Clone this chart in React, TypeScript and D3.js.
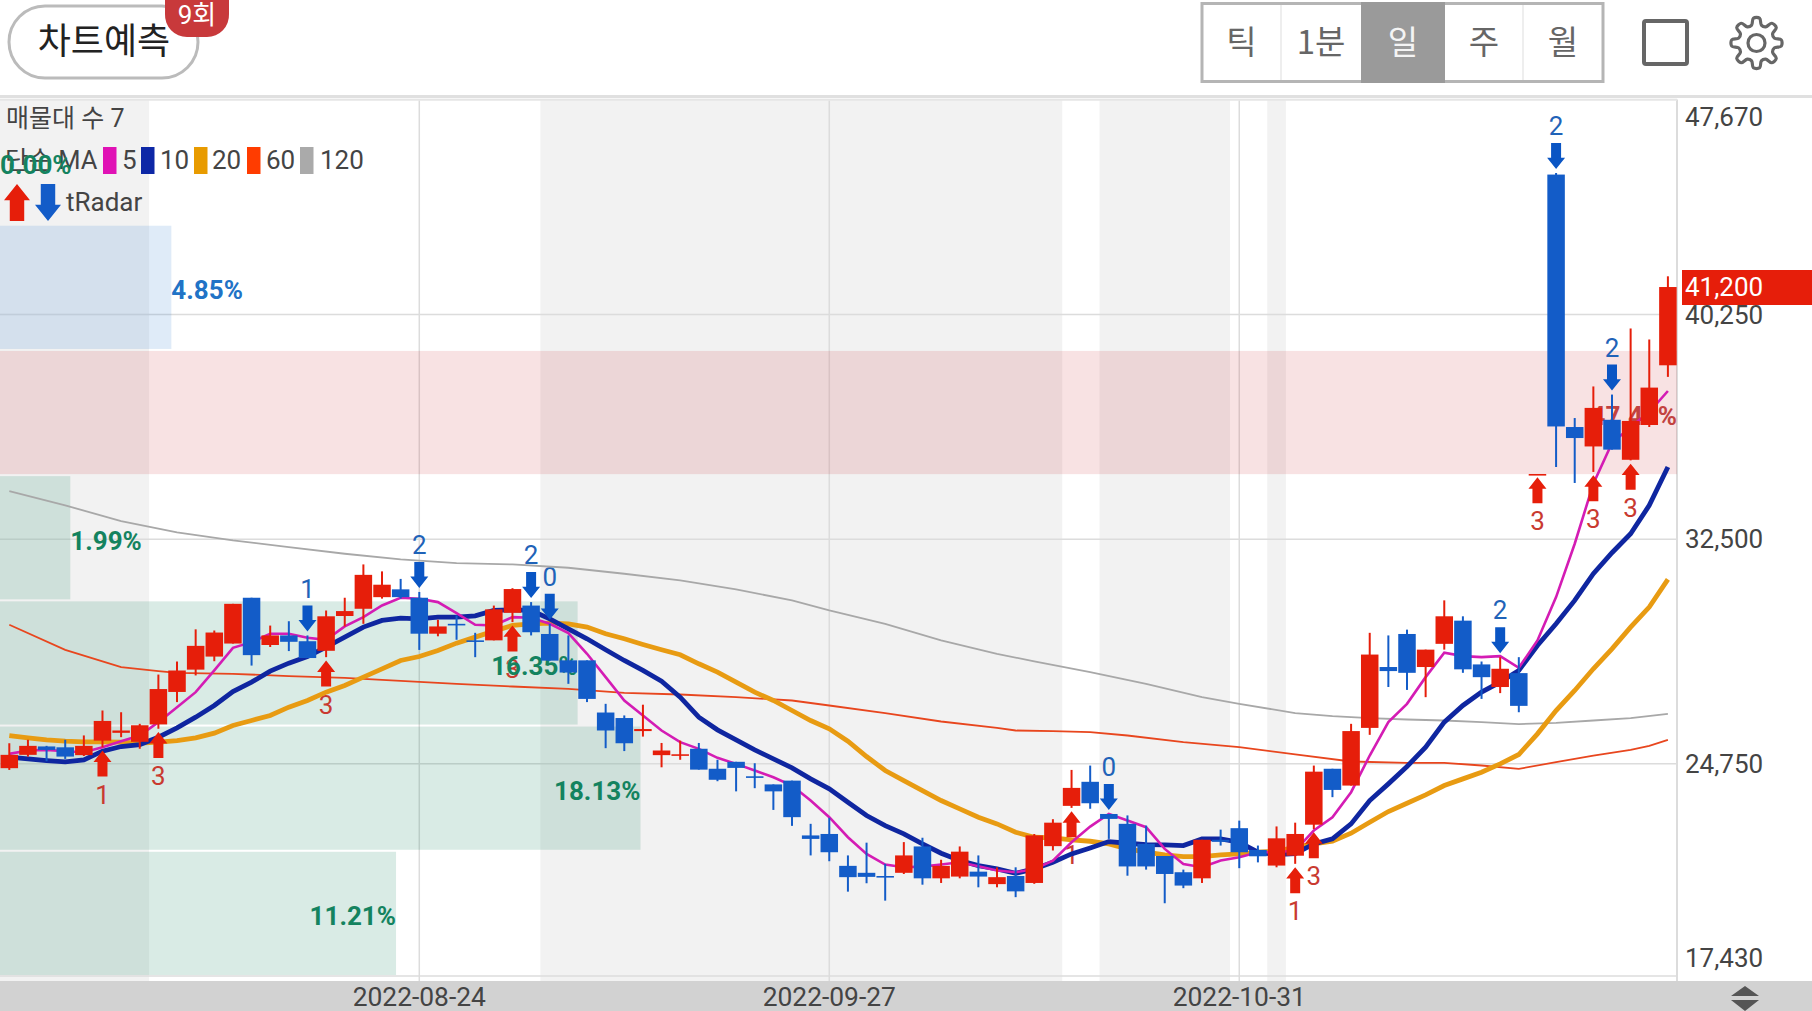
import React from 'react';
import * as d3 from 'd3';

const WIDTH = 1812;
const HEIGHT = 1011;
const PLOT_TOP = 99.5;
const PLOT_BOTTOM = 976;
const PLOT_RIGHT = 1677;

const FONT = 'Roboto, "Noto Sans CJK KR", sans-serif';
const RED = '#e61e0a';
const BLUE = '#135cc8';

const opens = [24600,25060,25350,25320,25050,25550,25820,25510,26110,27230,28000,28450,28900,30480,28850,29180,28980,28650,29850,30100,30500,30770,30480,29240,29580,29010,29010,29960,30210,29230,28320,28320,26520,26330,25880,25050,25040,25270,24580,24820,24320,24040,24170,22280,22330,21230,20990,20880,20990,21900,20800,20860,21030,20600,20880,20640,21910,23300,24130,23020,22680,21990,21570,21010,20800,22130,22530,21780,21240,21580,22650,24580,24000,25990,28090,29230,28090,28890,29690,28180,27400,27880,34750,45080,36370,35700,36620,35240,36440,38500];
const highs = [25460,25580,25370,25580,25730,26590,26530,26130,27830,28280,29390,29350,30270,30480,29520,29670,29180,30040,30480,31630,31390,31130,30680,29720,29870,29270,30210,30810,30330,29580,29180,28320,26820,26420,26790,25470,25550,25470,24890,24820,24770,24040,24170,22680,22890,21590,22030,21300,22050,22200,21440,21900,21590,21180,21180,22330,22840,24540,24690,23020,22970,22620,21570,21100,22130,22480,22790,21930,22590,22720,24690,24580,26130,29270,29180,29380,28690,30390,29840,28280,28430,28430,34750,45130,36680,37770,37490,39770,39390,41570];
const lows = [24540,25000,24840,24920,25020,25320,25670,25270,25960,26880,27800,28290,28900,28140,28780,28640,28400,28430,29490,29580,30450,30450,28680,29150,29030,28430,29010,29640,29180,28310,27510,26880,25290,25190,25690,24630,24890,24550,24150,23800,23910,23160,22610,21590,21390,20340,20630,20030,20950,20580,20640,20800,20490,20490,20150,20610,21760,23230,23200,22160,20890,21100,19940,20460,20640,21930,21150,21350,21180,21300,22500,23600,24000,25750,27400,27300,27050,28690,27890,26990,27190,26530,34750,34990,34440,34820,35590,35220,36370,38100];
const closes = [25060,25370,25230,25000,25370,26230,25900,26080,27330,27970,28820,29280,30270,28500,29180,28960,28400,29840,30020,31270,30930,30500,29240,29490,29540,28960,30080,30780,29290,28310,27900,26990,25900,25460,25950,25210,25080,24550,24200,24610,24280,23800,22910,22160,21700,20840,20850,20840,21590,20800,21230,21720,20860,20840,20350,22280,22720,23920,23390,22850,21210,21210,20950,20550,22130,22060,21700,21560,22180,22330,24480,23850,25880,28520,27950,27890,28690,29840,28010,27740,28030,26750,34750,36390,35990,37030,35590,36580,37730,41200];

const ma5 = [25094,25209,25232,25186,25151,25324,25531,25727,26187,26705,27223,27971,28753,28949,29237,29237,29099,29029,29490,29812,30215,30479,30445,30330,29950,29547,29524,29812,29789,29582,29259,28546,27741,26935,26417,25900,25497,25267,24956,24749,24519,24289,24001,23483,22908,22217,21642,21274,21182,21205,21274,21355,21216,21067,21009,21124,21412,22045,22586,23023,22793,22563,21815,21297,21182,21412,21527,21700,21700,21757,22448,22908,23771,25037,26188,26821,27741,28581,28466,28432,28466,28063,29007,30503,32344,34414,35818,36370,36888,37613];
const ma10 = [24979,24922,24864,24818,24887,25186,25347,25416,25669,25991,26360,26763,27246,27568,27948,28224,28454,28776,29121,29467,29697,29777,29754,29812,29812,29858,30042,30065,30042,29754,29409,29064,28684,28316,27971,27603,27050,26360,25923,25577,25232,24922,24611,24231,23886,23426,22966,22620,22333,21987,21665,21412,21239,21124,20975,21124,21355,21642,21849,22068,22010,21964,21953,21930,22160,22160,22045,21700,21619,21650,21988,22160,22678,23483,24059,24658,25324,26188,26763,27223,27569,27971,28834,29582,30388,31308,32033,32689,33667,34990];
const ma20 = [25727,25646,25577,25531,25508,25508,25497,25462,25497,25554,25646,25808,26072,26245,26417,26705,26935,27223,27453,27741,28028,28316,28454,28661,28914,29121,29329,29524,29582,29605,29582,29467,29237,29064,28868,28684,28512,28201,27913,27568,27223,26935,26590,26245,25957,25532,25002,24519,24174,23829,23483,23196,22908,22678,22390,22217,22195,22125,22079,21987,21815,21700,21608,21550,21550,21608,21642,21700,21734,21873,21988,22080,22356,22736,23104,23391,23679,24001,24231,24461,24749,25072,25785,26590,27281,28029,28719,29467,30158,31113];

// the two slow averages are read at the candles where the line is easy to see
const ma60Idx = [0,3,6,8,9,12,15,18,22,24,27,30,33,36,39,42,44,47,50,53,54,56,58,60,63,66,69,72,75,77,79,81,83,85,87,88,89];
const ma60 = [29547,28684,28086,27948,27890,27856,27775,27718,27580,27510,27418,27338,27200,27142,27050,26935,26763,26498,26211,25992,25900,25877,25842,25727,25497,25325,25075,24830,24784,24784,24692,24577,24807,25037,25233,25371,25578];
const ma120Idx = [0,3,6,9,12,15,18,21,24,27,30,33,36,39,42,44,47,50,53,55,58,61,64,66,69,71,73,75,77,79,81,83,85,87,89];
const ma120 = [34162,33667,33126,32735,32459,32228,31998,31803,31676,31630,31515,31308,31078,30767,30387,30043,29582,29007,28547,28282,27914,27511,27051,26821,26498,26395,26326,26280,26245,26188,26119,26165,26245,26326,26475];

const maLegend = ['5', '10', '20', '60', '120'];

const yTicks = [47670, 40250, 32500, 24750, 17430];
const dateIdx = [22, 44, 66];
const dateLabels = ['2022-08-24', '2022-09-27', '2022-10-31'];
const shadeFrom = [-0.5, 28.5, 58.5, 67.5];
const shadeTo = [7.5, 56.5, 65.5, 68.5];

// volume profile, top bin first
const profilePct = [0.0, 4.85, 47.47, 1.99, 16.35, 18.13, 11.21];
const profileKind = ['green', 'blue', 'red', 'green', 'green', 'green', 'green'];

const upIdx = [5, 8, 17, 27, 57, 69, 70, 82, 85, 87];
const upCount = [1, 3, 3, 3, 1, 1, 3, 3, 3, 3];
const downIdx = [16, 22, 28, 29, 59, 80, 83, 86];
const downCount = [1, 2, 2, 0, 0, 2, 2, 2];

const periods = ['틱', '1분', '일', '주', '월'];

const x = d3.scaleLinear().domain([0, 89]).range([9.3, 1667.9]);
const y = d3.scaleLinear().domain([17430, 47670]).range([PLOT_BOTTOM, PLOT_TOP]);
const profileW = d3.scaleLinear().domain([0, 47.47]).range([0, PLOT_RIGHT]);
const binEdge = d3.scaleLinear().domain([0, profilePct.length]).range([y(47670), y(17430)]);

const fillOf: Record<string, string> = {
    green: 'rgba(0,120,80,0.15)',
    blue: 'rgba(40,120,210,0.15)',
    red: 'rgba(200,30,40,0.13)',
};
const textOf: Record<string, string> = { green: '#14835f', blue: '#2173c6', red: '#c2423f' };
const maColors = ['#d41cb4', '#0f26a0', '#e89b12', '#e8461e', '#a8a8a8'];
const legendSwatch = ['#e012b5', '#0d27a6', '#e89b00', '#ff3c00', '#aaaaaa'];

const line = d3.line<[number, number]>().x(d => x(d[0])).y(d => y(d[1]));
const full = (vals: number[]) => vals.map((v, i) => [i, v] as [number, number]);
const sparse = (idx: number[], vals: number[]) => idx.map((k, i) => [k, vals[i]] as [number, number]);

const arrowPath = (cx: number, tip: number, dir: number, w = 18, h = 26) => {
    const head = h * 0.44;
    const stem = w / 3.6;
    return `M${cx},${tip} L${cx + w / 2},${tip + dir * head} L${cx + stem},${tip + dir * head} L${cx + stem},${tip + dir * h} L${cx - stem},${tip + dir * h} L${cx - stem},${tip + dir * head} L${cx - w / 2},${tip + dir * head} Z`;
};

const gearPath = () => {
    const teeth = 8;
    const pts: [number, number][] = [];
    d3.range(teeth).forEach(t => {
        const a = (t / teeth) * 2 * Math.PI;
        const s = (2 * Math.PI) / teeth;
        pts.push([a - s * 0.16, 25], [a + s * 0.16, 25], [a + s * 0.34, 18.5], [a + s * 0.66, 18.5]);
    });
    return d3.lineRadial<[number, number]>().angle(d => d[0]).radius(d => d[1]).curve(d3.curveCatmullRomClosed.alpha(0.5))(pts) || '';
};

const App: React.FC = () => {
    const bodyW = 17.5;
    const legendX = [103, 141, 194, 247, 300];
    const legendTextX = [122, 160, 212, 266, 320];
    const cellX = [1202, 1281, 1361, 1445, 1523, 1603];
    const last = closes[closes.length - 1];

    return (
        <svg width={WIDTH} height={HEIGHT} viewBox={`0 0 ${WIDTH} ${HEIGHT}`}
            style={{ position: 'absolute', left: 0, top: 0, display: 'block', background: '#fff' }}
            fontFamily={FONT}>
            {/* plot background */}
            {shadeFrom.map((f, i) => (
                <rect key={i} x={x(f)} y={PLOT_TOP} width={x(shadeTo[i]) - x(f)} height={981 - PLOT_TOP} fill="#f2f2f2" />
            ))}
            {yTicks.map(t => (
                <line key={t} x1={0} x2={PLOT_RIGHT} y1={y(t)} y2={y(t)} stroke="#dcdcdc" strokeWidth={1.5} />
            ))}
            {dateIdx.map(d => (
                <line key={d} x1={x(d)} x2={x(d)} y1={PLOT_TOP} y2={981} stroke="#dcdcdc" strokeWidth={1.5} />
            ))}
            <line x1={PLOT_RIGHT} x2={PLOT_RIGHT} y1={PLOT_TOP} y2={981} stroke="#dcdcdc" strokeWidth={2} />

            {/* legend */}
            <text x={6} y={118} dy=".35em" fontSize={25} fill="#444">매물대 수 7</text>
            <text x={5} y={160} dy=".35em" fontSize={25.5} fill="#444">단순 MA</text>
            {maLegend.map((m, i) => (
                <g key={m}>
                    <rect x={legendX[i]} y={147} width={13.5} height={27} fill={legendSwatch[i]} />
                    <text x={legendTextX[i]} y={160} dy=".35em" fontSize={26} fill="#444">{m}</text>
                </g>
            ))}
            <path d={arrowPath(17, 184, 1, 26, 37)} fill={RED} />
            <path d={arrowPath(48, 221, -1, 26, 37)} fill={BLUE} />
            <text x={66} y={202} dy=".35em" fontSize={26} fill="#444">tRadar</text>

            {/* volume profile */}
            {profilePct.map((p, i) => (
                <rect key={i} x={0} y={binEdge(i) + 1} width={profileW(p)} height={binEdge(i + 1) - binEdge(i) - 2}
                    fill={fillOf[profileKind[i]]} />
            ))}

            {/* signal counts sit under the profile text */}
            {upIdx.map((k, i) => (
                <text key={k} x={x(k)} y={y(lows[k]) + 3.3 + 44} dy=".35em" textAnchor="middle" fontSize={26} fill="#c93a30">{upCount[i]}</text>
            ))}
            {downIdx.map((k, i) => (
                <text key={k} x={x(k)} y={y(highs[k]) - 4 - 43} dy=".35em" textAnchor="middle" fontSize={26} fill="#1f63b8">{downCount[i]}</text>
            ))}
            {profilePct.map((p, i) => {
                const w = profileW(p);
                const inside = w > 200;
                return (
                    <text key={i} x={w} y={(binEdge(i) + binEdge(i + 1)) / 2 + 3} dy=".35em"
                        textAnchor={inside ? 'end' : 'start'} fontSize={26} fontWeight={700} fill={textOf[profileKind[i]]}>
                        {p.toFixed(2)}%
                    </text>
                );
            })}

            {/* moving averages */}
            <path d={line(sparse(ma120Idx, ma120)) || ''} fill="none" stroke={maColors[4]} strokeWidth={1.8} />
            <path d={line(sparse(ma60Idx, ma60)) || ''} fill="none" stroke={maColors[3]} strokeWidth={1.8} />
            <path d={line(full(ma20)) || ''} fill="none" stroke={maColors[2]} strokeWidth={4.8} />
            <path d={line(full(ma10)) || ''} fill="none" stroke={maColors[1]} strokeWidth={4.8} />
            <path d={line(full(ma5)) || ''} fill="none" stroke={maColors[0]} strokeWidth={2.6} />

            {/* candles */}
            {opens.map((o, i) => {
                const c = closes[i];
                const color = c >= o ? RED : BLUE;
                const top = y(Math.max(o, c));
                const bot = y(Math.min(o, c));
                return (
                    <g key={i}>
                        <line x1={x(i)} x2={x(i)} y1={y(highs[i])} y2={y(lows[i])} stroke={color} strokeWidth={2} />
                        <rect x={x(i) - bodyW / 2} y={top} width={bodyW} height={Math.max(bot - top, 1.6)} fill={color} />
                    </g>
                );
            })}

            {/* radar arrows */}
            {upIdx.map(k => (
                <path key={k} d={arrowPath(x(k), y(lows[k]) + 3.3, 1)} fill={RED} />
            ))}
            {downIdx.map(k => (
                <path key={k} d={arrowPath(x(k), y(highs[k]) - 4, -1)} fill="#0a55c4" />
            ))}

            {/* price axis */}
            {yTicks.map((t, i) => {
                const offset = i === 0 ? 17 : i === yTicks.length - 1 ? -18 : 0;
                return (
                    <text key={t} x={1685} y={y(t) + offset} dy=".35em" fontSize={26} fill="#444">{d3.format(',')(t)}</text>
                );
            })}
            <rect x={1682} y={270} width={130} height={35} fill={RED} />
            <text x={1685} y={287} dy=".35em" fontSize={26} fill="#fff">{d3.format(',')(last)}</text>

            {/* date bar */}
            <rect x={0} y={981} width={WIDTH} height={30} fill="#d2d2d2" />
            {dateIdx.map((d, i) => (
                <text key={d} x={x(d)} y={997} dy=".35em" textAnchor="middle" fontSize={26.4} fill="#444">{dateLabels[i]}</text>
            ))}
            <path d="M1745,986 L1759,996 L1731,996 Z M1731,1000 L1759,1000 L1745,1011 Z" fill="#555" />

            {/* top bar */}
            <rect x={0} y={0} width={WIDTH} height={95} fill="#fff" />
            <rect x={0} y={95} width={WIDTH} height={3} fill="#e0e0e0" />
            <line x1={0} x2={PLOT_RIGHT} y1={100} y2={100} stroke="#e8e8e8" strokeWidth={1.5} />

            <rect x={9} y={6} width={189} height={72} rx={36} fill="#fff" stroke="#bbb" strokeWidth={3} />
            <text x={104} y={41} dy=".35em" textAnchor="middle" fontSize={36} fill="#222" fontFamily='"Noto Sans CJK KR"'>차트예측</text>
            <path d="M165,0 L229,0 L229,14 A22,22 0 0 1 207,37 L187,37 A22,22 0 0 1 165,14 Z" fill="#c8393b" />
            <text x={197} y={15} dy=".35em" textAnchor="middle" fontSize={26} fill="#fff" fontFamily={FONT}>9회</text>

            <rect x={1202} y={3.5} width={401} height={78} fill="#fff" stroke="#b5b5b5" strokeWidth={3} />
            {periods.map((p, i) => (
                <g key={p}>
                    {i === 2 && <rect x={cellX[i]} y={2} width={cellX[i + 1] - cellX[i]} height={81} fill="#9a9a9a" />}
                    {i > 0 && i !== 2 && i !== 3 && (
                        <line x1={cellX[i]} x2={cellX[i]} y1={5} y2={80} stroke="#eeeeee" strokeWidth={2} />
                    )}
                    <text x={(cellX[i] + cellX[i + 1]) / 2} y={42} dy=".35em" textAnchor="middle" fontSize={33}
                        fill={i === 2 ? '#f4f4f4' : '#666'} fontFamily='"Noto Sans CJK KR"'>{p}</text>
                </g>
            ))}
            <rect x={1644} y={21} width={43} height={43} rx={2} fill="none" stroke="#666" strokeWidth={4} />
            <g transform="translate(1756.5,43)">
                <path d={gearPath()} fill="none" stroke="#666" strokeWidth={3.2} />
                <circle r={8.5} fill="none" stroke="#666" strokeWidth={3.2} />
            </g>
        </svg>
    );
};

export default App;
